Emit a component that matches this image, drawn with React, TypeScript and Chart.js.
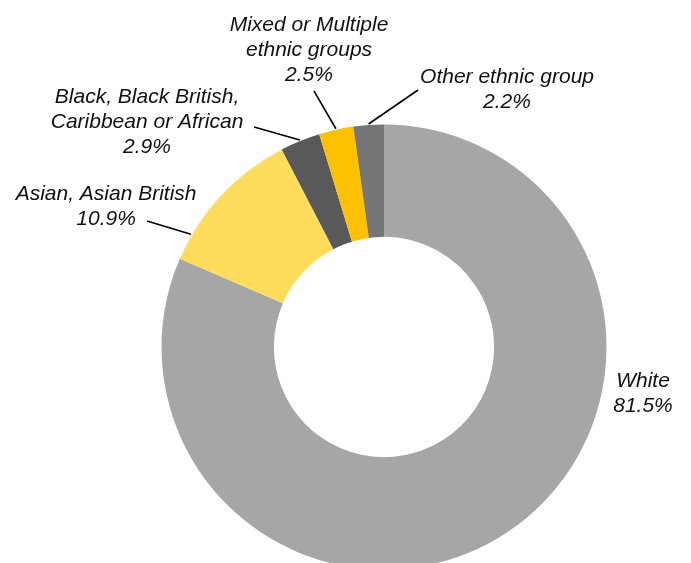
import React, { useEffect, useRef } from "react";
import { Chart, registerables } from "chart.js";

Chart.register(...registerables);

// ---- data ----
const categories = [
  "White",
  "Asian, Asian British",
  "Black, Black British, Caribbean or African",
  "Mixed or Multiple ethnic groups",
  "Other ethnic group",
];
const percentages = [81.5, 10.9, 2.9, 2.5, 2.2];
const labelLines = [
  ["White"],
  ["Asian, Asian British"],
  ["Black, Black British,", "Caribbean or African"],
  ["Mixed or Multiple", "ethnic groups"],
  ["Other ethnic group"],
];

// ---- style / layout ----
const sliceColors = ["#A6A6A6", "#FFDC5C", "#595959", "#FFC000", "#767676"];
// label text anchor (centre x, first baseline) relative to chart centre, in units of outer radius
const labelAnchor = [
  { dx: 1.164, dy: 0.18 },
  { dx: -1.249, dy: -0.661 },
  { dx: -1.065, dy: -1.097 },
  { dx: -0.337, dy: -1.42 },
  { dx: 0.553, dy: -1.187 },
];
// leader line: text-side end (relative to centre, radius units) and position along slice (0..1)
const leaderText: ({ dx: number; dy: number } | null)[] = [
  null,
  { dx: -1.065, dy: -0.566 },
  { dx: -0.584, dy: -0.989 },
  { dx: -0.315, dy: -1.151 },
  { dx: 0.153, dy: -1.155 },
];
const leaderAlong = [0.5, 0.175, 0.5, 0.5, 0.5];

const FONT = 'italic 21px "Liberation Sans", Arial, Helvetica, sans-serif';
const LINE_H = 25;

const labelPlugin = {
  id: "sliceLabels",
  afterDatasetsDraw(chart: any) {
    const meta = chart.getDatasetMeta(0);
    const ctx = chart.ctx as CanvasRenderingContext2D;
    ctx.save();
    meta.data.forEach((arc: any, i: number) => {
      const { x, y, startAngle, endAngle, outerRadius } = arc.getProps(
        ["x", "y", "startAngle", "endAngle", "outerRadius"],
        true
      );
      const R = outerRadius;
      const lt = leaderText[i];
      if (lt) {
        const a = startAngle + (endAngle - startAngle) * leaderAlong[i];
        const ax = x + Math.cos(a) * (R + 1);
        const ay = y + Math.sin(a) * (R + 1);
        ctx.beginPath();
        ctx.moveTo(x + lt.dx * R, y + lt.dy * R);
        ctx.lineTo(ax, ay);
        ctx.strokeStyle = "#000";
        ctx.lineWidth = 1.6;
        ctx.stroke();
      }
      const lines = [...labelLines[i], percentages[i].toFixed(1) + "%"];
      ctx.font = FONT;
      ctx.fillStyle = "#111";
      ctx.textAlign = "center";
      ctx.textBaseline = "alphabetic";
      const tx = x + labelAnchor[i].dx * R;
      const ty = y + labelAnchor[i].dy * R;
      lines.forEach((ln, k) => ctx.fillText(ln, tx, ty + k * LINE_H));
    });
    ctx.restore();
  },
};

export default function App() {
  const ref = useRef<HTMLCanvasElement | null>(null);
  useEffect(() => {
    if (!ref.current) return;
    const chart = new Chart(ref.current, {
      type: "doughnut",
      data: {
        labels: categories,
        datasets: [
          {
            data: percentages,
            backgroundColor: sliceColors,
            borderWidth: 0,
          },
        ],
      },
      options: {
        responsive: false,
        animation: false,
        events: [],
        cutout: "49.5%",
        rotation: 0,
        layout: { padding: { left: 161.5, right: 84.5, top: 124.5, bottom: 124.5 } },
        plugins: {
          legend: { display: false },
          tooltip: { enabled: false },
        },
      },
      plugins: [labelPlugin],
    });
    return () => chart.destroy();
  }, []);
  return (
    <div
      style={{
        position: "fixed",
        left: 0,
        top: 0,
        width: 691,
        height: 563,
        overflow: "hidden",
        background: "#fff",
      }}
    >
      <canvas ref={ref} width={691} height={694} style={{ display: "block" }} />
    </div>
  );
}
